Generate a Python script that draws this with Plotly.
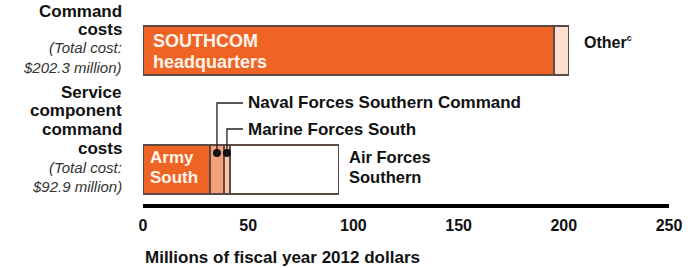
import plotly.graph_objects as go

# ---------------- data ----------------
command_segments = ["SOUTHCOM headquarters", "Other"]
command_values = [195.3, 7.0]
service_segments = ["Army South", "Naval Forces Southern Command", "Marine Forces South", "Air Forces Southern"]
service_values = [31.8, 6.7, 2.8, 51.6]
tick_values = [0, 50, 100, 150, 200, 250]
tick_labels = ["0", "50", "100", "150", "200", "250"]
axis_title = "Millions of fiscal year 2012 dollars"
command_label = ["Command", "costs"]
command_total = ["(Total cost:", "$202.3 million)"]
service_label = ["Service", "component", "command", "costs"]
service_total = ["(Total cost:", "$92.9 million)"]

# ---------------- styling / layout ----------------
W, H = 696, 268
ML, MR, MT, MB = 143, 27, 10, 64
XMAX = 250
PLOT_W = W - ML - MR
PLOT_H = H - MT - MB
PX_PER_X = PLOT_W / XMAX
PX_PER_Y = 119.0
Y_TOP_BAR, Y_BOT_BAR = 1, 0
TOP_CENTER_PX = 50.5


def dx(px):
    return (px - ML) / PX_PER_X


def dy(py):
    return Y_TOP_BAR + (TOP_CENTER_PX - py) / PX_PER_Y


def paper_x(px):
    return (px - ML) / PLOT_W


def paper_y(py):
    return (H - MB - py) / PLOT_H


y_top = dy(MT)
y_bot = dy(MT + PLOT_H)

FONT = "Liberation Sans, Arial, Helvetica, sans-serif"
DARK = "#EF6424"
LIGHT = "#F4A17C"
PALE = "#F8C3AA"
OTHER = "#FDDFD1"
EDGE = "#5b4b44"
BAR_W = 49 / PX_PER_Y

fig = go.Figure()

top_colors = [DARK, OTHER]
for name, v, c in zip(command_segments, command_values, top_colors):
    fig.add_trace(go.Bar(x=[v], y=[Y_TOP_BAR], orientation="h", name=name, width=BAR_W,
                         marker=dict(color=c, line=dict(color=EDGE, width=1.2)),
                         hoverinfo="x+name"))

bot_colors = [DARK, LIGHT, PALE, "#ffffff"]
for name, v, c in zip(service_segments, service_values, bot_colors):
    fig.add_trace(go.Bar(x=[v], y=[Y_BOT_BAR], orientation="h", name=name, width=BAR_W,
                         marker=dict(color=c, line=dict(color=EDGE, width=1.2)),
                         hoverinfo="x+name"))

# leader lines + dots for the small segments
naval_c = service_values[0] + service_values[1] / 2
marine_c = service_values[0] + service_values[1] + service_values[2] / 2
dot_y = dy(153)
lead_end = dx(243)
naval_y = dy(103)
marine_y = dy(129)
for xc, ly in [(naval_c, naval_y), (marine_c, marine_y)]:
    fig.add_trace(go.Scatter(x=[xc, xc, lead_end], y=[dot_y, ly, ly], mode="lines",
                             line=dict(color="#222", width=1.3), hoverinfo="skip"))
fig.add_trace(go.Scatter(x=[naval_c, marine_c], y=[dot_y, dot_y], mode="markers",
                         marker=dict(color="#111", size=8), hoverinfo="skip"))

ann = []


def add(text, xpx, ypx, size, anchor="left", color="#111", bold=True, italic=False):
    t = text
    if bold:
        t = "<b>" + t + "</b>"
    if italic:
        t = "<i>" + t + "</i>"
    ann.append(dict(text=t, x=paper_x(xpx), y=paper_y(ypx), xref="paper", yref="paper",
                    xanchor=anchor, yanchor="middle", showarrow=False,
                    font=dict(family=FONT, size=size, color=color)))


# left labels
for s, py in zip(command_label, [12, 30]):
    add(s, 124, py, 17, anchor="right")
for s, py in zip(command_total, [48, 67]):
    add(s, 124, py, 15, anchor="right", bold=False, italic=True, color="#333")
for s, py in zip(service_label, [92, 111, 129, 148]):
    add(s, 124, py, 17, anchor="right")
for s, py in zip(service_total, [167, 186]):
    add(s, 124, py, 15, anchor="right", bold=False, italic=True, color="#333")

# in-bar labels
add("SOUTHCOM", 151, 41, 18, color="#fff4ec")
add("headquarters", 151, 62, 18, color="#fff4ec")
add("Army", 148, 157, 17, color="#fff4ec")
add("South", 148, 177, 17, color="#fff4ec")

# side labels
add("Other<sup><span style='font-size:9px'>c</span></sup>", 582, 42, 16)
add("Air Forces", 347, 157, 16.5)
add("Southern", 347, 177, 16.5)
add(service_segments[1], 246, 103, 17)
add(service_segments[2], 246, 129, 17)

# axis title
add(axis_title, 143, 257, 17)

fig.update_layout(
    width=W, height=H, barmode="stack", showlegend=False,
    margin=dict(l=ML, r=MR, t=MT, b=MB, autoexpand=False),
    paper_bgcolor="white", plot_bgcolor="white",
    annotations=ann,
    xaxis=dict(range=[0, XMAX], tickvals=tick_values,
               ticktext=["<b>" + t + "</b>" for t in tick_labels],
               tickfont=dict(family=FONT, size=16, color="#111"),
               showgrid=False, zeroline=False, showline=True, linecolor="#000", linewidth=4,
               ticks="outside", ticklen=4, tickcolor="rgba(0,0,0,0)", fixedrange=True,
               automargin=False),
    yaxis=dict(range=[y_bot, y_top], visible=False, fixedrange=True, automargin=False),
)

fig.write_html("out.html", config={"displayModeBar": False},
               post_script="document.body.style.margin='0px';")
